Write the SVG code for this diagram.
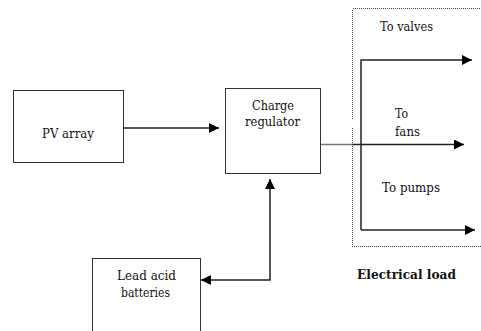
<svg xmlns="http://www.w3.org/2000/svg" width="481" height="331" viewBox="0 0 481 331">
<style>
text{font-family:'DejaVu Serif','Liberation Serif',serif;font-size:12.5px;fill:#111}
.b{font-weight:bold;font-size:13px}
.box{fill:#fff;stroke:#333;stroke-width:1}
.ln{fill:none;stroke:#222;stroke-width:1.5}
.gl{fill:none;stroke:#777;stroke-width:1.5}
.dot{fill:none;stroke:#444;stroke-width:1;stroke-dasharray:1 1;shape-rendering:crispEdges}
</style>
<defs>
<marker id="ah" viewBox="0 0 10 10" refX="10" refY="5" markerWidth="11" markerHeight="10" markerUnits="userSpaceOnUse" orient="auto-start-reverse">
<path d="M0,0 L10,5 L0,10 z" fill="#000"/>
</marker>
</defs>
<rect class="dot" x="352.5" y="8.5" width="140" height="238"/>
<g id="pv"><rect class="box" x="13.5" y="90.5" width="110" height="72"/><text x="42" y="138" textLength="52" lengthAdjust="spacingAndGlyphs">PV array</text></g>
<g id="regulator"><rect class="box" x="225.5" y="88.5" width="95" height="85"/><text x="252" y="110" textLength="42" lengthAdjust="spacingAndGlyphs">Charge</text><text x="245" y="126" textLength="55" lengthAdjust="spacingAndGlyphs">regulator</text></g>
<g id="batteries"><rect class="box" x="92.5" y="258.5" width="108" height="90"/><text x="117" y="280" textLength="59" lengthAdjust="spacingAndGlyphs">Lead acid</text><text x="121" y="297" textLength="49" lengthAdjust="spacingAndGlyphs">batteries</text></g>
<g id="connectors">
<line class="ln" x1="123" y1="128" x2="219" y2="128" marker-end="url(#ah)"/>
<polyline class="ln" points="201,280 270,280 270,179" marker-start="url(#ah)" marker-end="url(#ah)"/>
<line class="gl" x1="321" y1="144.5" x2="352" y2="144.5"/>
<line class="ln" x1="352" y1="144.5" x2="464" y2="144.5" marker-end="url(#ah)"/>
<polyline class="ln" points="361,230 361,60 472,60" marker-end="url(#ah)"/>
<line class="ln" x1="361" y1="230" x2="475" y2="230" marker-end="url(#ah)"/>
</g>
<g id="labels">
<text x="380" y="31" textLength="53" lengthAdjust="spacingAndGlyphs">To valves</text>
<text x="395" y="118" textLength="13" lengthAdjust="spacingAndGlyphs">To</text>
<text x="395" y="136" textLength="25" lengthAdjust="spacingAndGlyphs">fans</text>
<text x="382" y="192" textLength="58" lengthAdjust="spacingAndGlyphs">To pumps</text>
<text class="b" x="357" y="279" textLength="99" lengthAdjust="spacingAndGlyphs">Electrical load</text>
</g>
</svg>
